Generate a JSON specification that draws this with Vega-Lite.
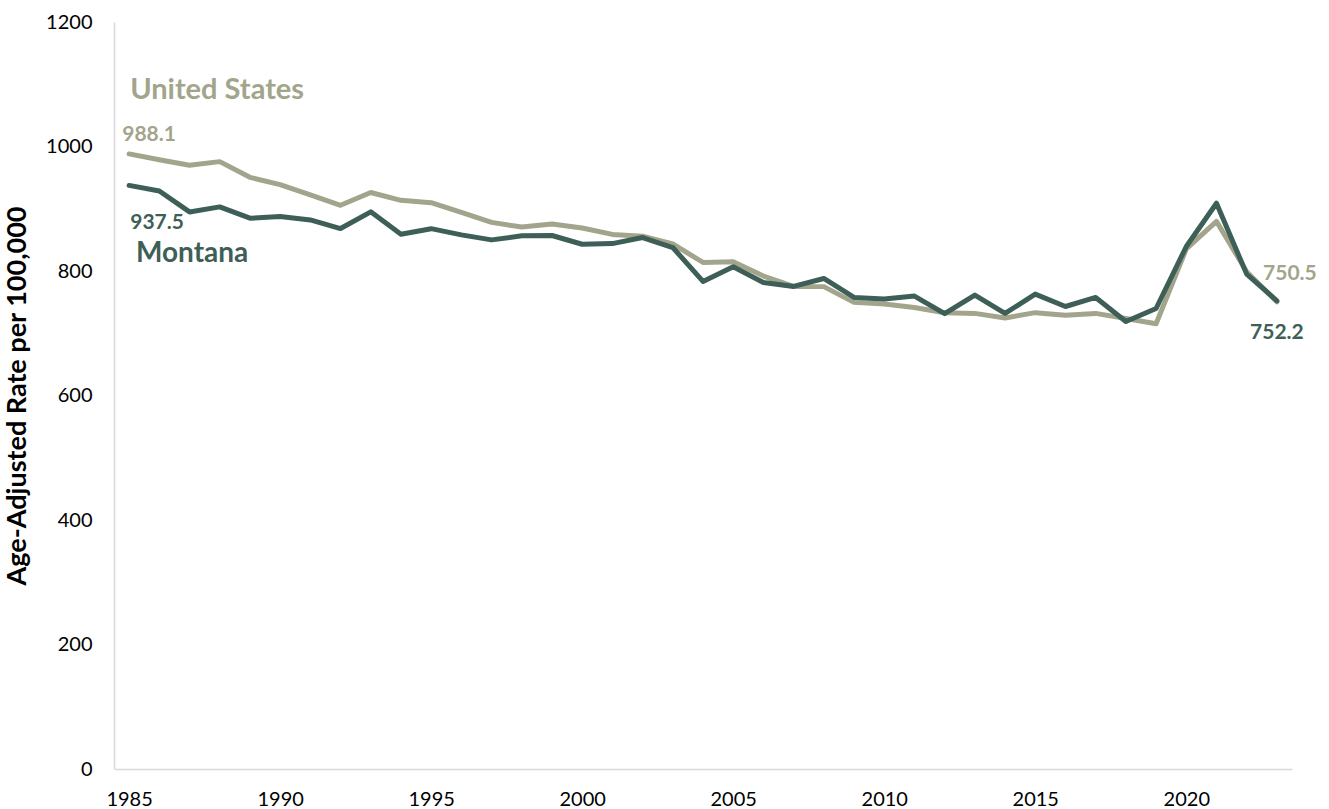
{
  "$schema": "https://vega.github.io/schema/vega-lite/v6.json",
  "width": 1178,
  "height": 747,
  "autosize": {"type": "none"},
  "padding": {"left": 114, "top": 22, "right": 37, "bottom": 40},
  "background": "white",
  "config": {
    "view": {"stroke": null},
    "font": "Lato",
    "axis": {
      "grid": false,
      "ticks": false,
      "domainColor": "#d9d9d9",
      "domainWidth": 1.5,
      "labelFont": "Lato",
      "labelFontSize": 20,
      "labelColor": "#000000",
      "titleFont": "Lato",
      "titleColor": "#000000"
    }
  },
  "data": {
    "values": [
      {"year": 1985, "series": "United States", "rate": 988.1},
      {"year": 1986, "series": "United States", "rate": 978.6},
      {"year": 1987, "series": "United States", "rate": 970.0},
      {"year": 1988, "series": "United States", "rate": 975.7},
      {"year": 1989, "series": "United States", "rate": 950.5},
      {"year": 1990, "series": "United States", "rate": 938.7},
      {"year": 1991, "series": "United States", "rate": 922.3},
      {"year": 1992, "series": "United States", "rate": 905.6},
      {"year": 1993, "series": "United States", "rate": 926.1},
      {"year": 1994, "series": "United States", "rate": 913.5},
      {"year": 1995, "series": "United States", "rate": 909.8},
      {"year": 1996, "series": "United States", "rate": 894.1},
      {"year": 1997, "series": "United States", "rate": 878.1},
      {"year": 1998, "series": "United States", "rate": 870.6},
      {"year": 1999, "series": "United States", "rate": 875.6},
      {"year": 2000, "series": "United States", "rate": 869.0},
      {"year": 2001, "series": "United States", "rate": 858.8},
      {"year": 2002, "series": "United States", "rate": 855.9},
      {"year": 2003, "series": "United States", "rate": 843.5},
      {"year": 2004, "series": "United States", "rate": 813.7},
      {"year": 2005, "series": "United States", "rate": 815.0},
      {"year": 2006, "series": "United States", "rate": 791.8},
      {"year": 2007, "series": "United States", "rate": 775.3},
      {"year": 2008, "series": "United States", "rate": 774.9},
      {"year": 2009, "series": "United States", "rate": 749.6},
      {"year": 2010, "series": "United States", "rate": 747.0},
      {"year": 2011, "series": "United States", "rate": 741.3},
      {"year": 2012, "series": "United States", "rate": 732.8},
      {"year": 2013, "series": "United States", "rate": 731.9},
      {"year": 2014, "series": "United States", "rate": 724.6},
      {"year": 2015, "series": "United States", "rate": 733.1},
      {"year": 2016, "series": "United States", "rate": 728.8},
      {"year": 2017, "series": "United States", "rate": 731.9},
      {"year": 2018, "series": "United States", "rate": 723.6},
      {"year": 2019, "series": "United States", "rate": 715.2},
      {"year": 2020, "series": "United States", "rate": 835.4},
      {"year": 2021, "series": "United States", "rate": 879.7},
      {"year": 2022, "series": "United States", "rate": 798.8},
      {"year": 2023, "series": "United States", "rate": 750.5},
      {"year": 1985, "series": "Montana", "rate": 937.5},
      {"year": 1986, "series": "Montana", "rate": 928.6},
      {"year": 1987, "series": "Montana", "rate": 894.9},
      {"year": 1988, "series": "Montana", "rate": 903.0},
      {"year": 1989, "series": "Montana", "rate": 884.8},
      {"year": 1990, "series": "Montana", "rate": 887.4},
      {"year": 1991, "series": "Montana", "rate": 882.0},
      {"year": 1992, "series": "Montana", "rate": 868.2},
      {"year": 1993, "series": "Montana", "rate": 895.0},
      {"year": 1994, "series": "Montana", "rate": 859.0},
      {"year": 1995, "series": "Montana", "rate": 868.0},
      {"year": 1996, "series": "Montana", "rate": 858.0},
      {"year": 1997, "series": "Montana", "rate": 850.0},
      {"year": 1998, "series": "Montana", "rate": 856.5},
      {"year": 1999, "series": "Montana", "rate": 857.0},
      {"year": 2000, "series": "Montana", "rate": 843.0},
      {"year": 2001, "series": "Montana", "rate": 844.0},
      {"year": 2002, "series": "Montana", "rate": 853.7},
      {"year": 2003, "series": "Montana", "rate": 837.7},
      {"year": 2004, "series": "Montana", "rate": 783.2},
      {"year": 2005, "series": "Montana", "rate": 806.7},
      {"year": 2006, "series": "Montana", "rate": 781.6},
      {"year": 2007, "series": "Montana", "rate": 775.2},
      {"year": 2008, "series": "Montana", "rate": 788.0},
      {"year": 2009, "series": "Montana", "rate": 757.5},
      {"year": 2010, "series": "Montana", "rate": 754.9},
      {"year": 2011, "series": "Montana", "rate": 759.7},
      {"year": 2012, "series": "Montana", "rate": 731.4},
      {"year": 2013, "series": "Montana", "rate": 761.3},
      {"year": 2014, "series": "Montana", "rate": 731.8},
      {"year": 2015, "series": "Montana", "rate": 762.9},
      {"year": 2016, "series": "Montana", "rate": 743.0},
      {"year": 2017, "series": "Montana", "rate": 757.5},
      {"year": 2018, "series": "Montana", "rate": 719.0},
      {"year": 2019, "series": "Montana", "rate": 739.8},
      {"year": 2020, "series": "Montana", "rate": 839.3},
      {"year": 2021, "series": "Montana", "rate": 908.9},
      {"year": 2022, "series": "Montana", "rate": 795.0},
      {"year": 2023, "series": "Montana", "rate": 752.2}
    ]
  },
  "encoding": {
    "x": {
      "field": "year",
      "type": "quantitative",
      "scale": {"domain": [1984.5, 2023.5], "nice": false, "zero": false},
      "axis": {
        "title": null,
        "values": [1985, 1990, 1995, 2000, 2005, 2010, 2015, 2020],
        "format": "d",
        "labelPadding": 20
      }
    },
    "y": {
      "field": "rate",
      "type": "quantitative",
      "scale": {"domain": [0, 1200], "nice": false},
      "axis": {
        "title": "Age-Adjusted Rate per 100,000",
        "titleFontSize": 27,
        "titleFontWeight": "bold",
        "titlePadding": 14,
        "values": [0, 200, 400, 600, 800, 1000, 1200],
        "format": "d",
        "labelPadding": 22
      }
    }
  },
  "layer": [
    {
      "transform": [{"filter": "datum.series === 'United States'"}],
      "mark": {"type": "line", "color": "#a2a58b", "strokeWidth": 5, "strokeJoin": "round", "strokeCap": "round"}
    },
    {
      "transform": [{"filter": "datum.series === 'Montana'"}],
      "mark": {"type": "line", "color": "#3e5f57", "strokeWidth": 5, "strokeJoin": "round", "strokeCap": "round"}
    },
    {
      "transform": [{"filter": "datum.series === 'United States' && datum.year === 1985"}],
      "mark": {"type": "text", "color": "#a2a58b", "font": "Lato", "fontSize": 21, "fontWeight": "bold", "align": "center", "baseline": "alphabetic", "dx": 20, "dy": -13},
      "encoding": {"text": {"field": "rate", "type": "quantitative", "format": ".1f"}}
    },
    {
      "transform": [{"filter": "datum.series === 'United States' && datum.year === 1985"}],
      "mark": {"type": "text", "color": "#a2a58b", "font": "Lato", "fontSize": 29, "fontWeight": "bold", "align": "center", "baseline": "alphabetic", "dx": 88, "dy": -55},
      "encoding": {"text": {"field": "series", "type": "nominal"}}
    },
    {
      "transform": [{"filter": "datum.series === 'Montana' && datum.year === 1985"}],
      "mark": {"type": "text", "color": "#3e5f57", "font": "Lato", "fontSize": 21, "fontWeight": "bold", "align": "center", "baseline": "alphabetic", "dx": 28, "dy": 44},
      "encoding": {"text": {"field": "rate", "type": "quantitative", "format": ".1f"}}
    },
    {
      "transform": [{"filter": "datum.series === 'Montana' && datum.year === 1985"}],
      "mark": {"type": "text", "color": "#3e5f57", "font": "Lato", "fontSize": 28, "fontWeight": "bold", "align": "center", "baseline": "alphabetic", "dx": 63, "dy": 77},
      "encoding": {"text": {"field": "series", "type": "nominal"}}
    },
    {
      "transform": [{"filter": "datum.series === 'United States' && datum.year === 2023"}],
      "mark": {"type": "text", "color": "#a2a58b", "font": "Lato", "fontSize": 21, "fontWeight": "bold", "align": "center", "baseline": "alphabetic", "dx": 13, "dy": -22},
      "encoding": {"text": {"field": "rate", "type": "quantitative", "format": ".1f"}}
    },
    {
      "transform": [{"filter": "datum.series === 'Montana' && datum.year === 2023"}],
      "mark": {"type": "text", "color": "#3e5f57", "font": "Lato", "fontSize": 21, "fontWeight": "bold", "align": "center", "baseline": "alphabetic", "dx": 0, "dy": 38},
      "encoding": {"text": {"field": "rate", "type": "quantitative", "format": ".1f"}}
    }
  ]
}
